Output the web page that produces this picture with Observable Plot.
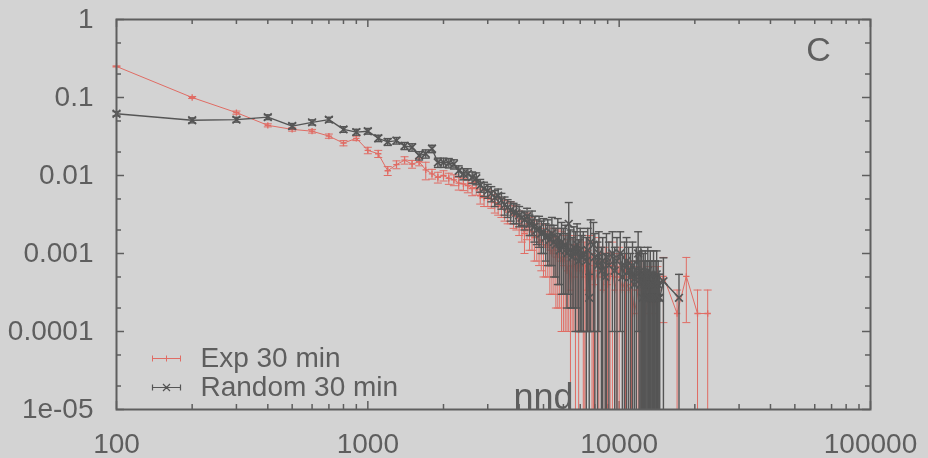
<!DOCTYPE html>
<html>
<head>
<meta charset="utf-8">
<script src="https://cdn.jsdelivr.net/npm/d3@7"></script>
<script src="https://cdn.jsdelivr.net/npm/@observablehq/plot@0.6"></script>
<style>
  html, body { margin: 0; padding: 0; background: #d3d3d3; }
  #chart { width: 928px; height: 458px; overflow: hidden; }
  #chart svg { filter: blur(0.5px); }
</style>
</head>
<body>
<div id="chart"></div>
<script>
// ---- Series: Exp 30 min (red) ----
const expX = [100,200,300,400,500,600,700,800,900,1000,1100,1200,1300,1400,1500,1600,1700,1800,1900,2000,
  2100,2200,2300,2400,2500,2600,2700,2800,2900,3000,3100,3200,3300,3400,3500,3600,3700,3800,3900,4000,
  4100,4200,4300,4400,4500,4600,4700,4800,4900,5000,5100,5200,5300,5400,5500,5600,5700,5800,5900,6000,
  6100,6200,6300,6400,6500,6600,6700,6800,6900,7000,7200,7300,7400,7500,7600,7800,7900,8000,8200,8300,
  8500,8600,8800,9000,9200,9400,9600,9800,10000,10300,10600,10900,11200,11500,11900,12300,12700,13200,13700,14200,
  15000,17000,18500,20500,22500];
const expY = [0.25,0.100,0.064,0.044,0.039,0.037,0.032,0.026,0.030,0.021,0.019,0.0115,0.0138,0.0157,0.0140,0.0150,0.0118,0.0105,0.0095,0.0100,
  0.0092,0.0088,0.0080,0.0078,0.0074,0.0068,0.0070,0.0055,0.0052,0.0053,0.0050,0.0045,0.0042,0.0040,0.0037,0.0034,0.0035,0.0031,0.0030,0.0026,
  0.0022,0.0018,0.0024,0.0020,0.0019,0.0016,0.0017,0.0014,0.0015,0.0013,0.0012,0.0014,0.0011,0.0010,0.0012,0.0009,0.0011,0.0008,0.0010,0.0007,
  0.0009,0.0006,0.0008,0.00034,0.0007,0.0009,0.0005,0.0007,0.0006,0.0008,0.0005,0.0007,0.00034,0.0006,0.0009,0.0005,0.0007,0.0004,0.0006,0.0008,
  0.0005,0.00034,0.0006,0.0004,0.00051,0.0007,0.00034,0.0005,0.0006,0.00034,0.0005,0.00034,0.0004,0.00017,0.00034,0.0004,0.00017,0.00034,0.00017,0.00034,
  0.00051,0.00017,0.00051,0.00017,0.00017];
const expErr = [0.004,0.003,0.003,0.002,0.002,0.002,0.002,0.002,0.002,0.002,0.002,0.0015,0.0016,0.0017,0.0016,0.0017,0.0030,0.0015,0.0015,0.0015,
  0.0015,0.0014,0.0015,0.0014,0.0014,0.0013,0.0014,0.0012,0.0012,0.0013,0.0012,0.0012,0.0011,0.0011,0.0011,0.0010,0.0011,0.0010,0.0010,0.0009,
  0.0008,0.0008,0.0009,0.0009,0.0008,0.0008,0.0009,0.0007,0.0009,0.0008,0.0007,0.0009,0.0008,0.0007,0.0009,0.0007,0.0009,0.0006,0.0009,0.0006,
  0.0008,0.0005,0.0007,0.00034,0.0006,0.0008,0.0005,0.0006,0.0006,0.0007,0.0005,0.0007,0.00034,0.0005,0.0008,0.0005,0.0007,0.0004,0.0006,0.0008,
  0.0005,0.00034,0.0006,0.0004,0.00051,0.0007,0.00034,0.0005,0.0006,0.00034,0.0005,0.00034,0.0004,0.00017,0.00034,0.0004,0.00017,0.00034,0.00017,0.00034,
  0.00038,0.00017,0.00038,0.00017,0.00017];

// ---- Series: Random 30 min (dark grey) ----
const randX = [100,200,300,400,500,600,700,800,900,1000,1100,1200,1300,1400,1500,1600,1700,1800,1900,2000,
  2100,2200,2300,2400,2500,2600,2700,2800,2900,3000,3100,3200,3300,3400,3500,3600,3700,3800,3900,4000,
  4100,4200,4300,4400,4500,4600,4700,4800,4900,5000,5100,5200,5300,5400,5500,5600,5700,5800,5900,6000,
  6100,6200,6300,6400,6500,6600,6700,6800,6900,7000,7100,7200,7400,7500,7600,7700,7900,8000,8200,8300,
  8500,8600,8800,8900,9100,9400,9600,9800,10100,10300,10500,10700,10900,11100,11300,11500,11700,11900,12000,12100,
  12200,12300,12400,12500,12600,12700,12800,12900,13000,13100,13200,13300,13400,13500,13600,13700,13800,13900,14000,14100,
  14200,14300,14400,14500,15000,17300];
const randY = [0.062,0.051,0.052,0.056,0.043,0.048,0.052,0.039,0.036,0.037,0.030,0.027,0.028,0.024,0.023,0.018,0.019,0.022,0.0147,0.0147,
  0.0145,0.0140,0.0115,0.0105,0.0105,0.0095,0.0092,0.0075,0.0068,0.0064,0.0059,0.0052,0.0055,0.0048,0.0042,0.0039,0.0036,0.0034,0.0033,0.0031,
  0.0029,0.0027,0.0030,0.0024,0.0026,0.0022,0.0020,0.0021,0.0018,0.0019,0.0016,0.0017,0.0015,0.0018,0.0014,0.0013,0.0016,0.0011,0.0014,0.0012,
  0.0013,0.0010,0.0024,0.0011,0.0009,0.0012,0.0010,0.0013,0.0008,0.0011,0.0009,0.0010,0.0008,0.0011,0.00027,0.0014,0.0013,0.0009,0.0007,0.0010,
  0.0006,0.0008,0.0005,0.0009,0.0007,0.0010,0.0006,0.0008,0.0010,0.0005,0.0007,0.0008,0.0006,0.0005,0.0007,0.0004,0.0006,0.0010,0.0005,0.0004,
  0.0006,0.00054,0.00027,0.0005,0.0004,0.00054,0.00027,0.0004,0.0006,0.00027,0.0004,0.00054,0.00027,0.0004,0.00027,0.00054,0.00027,0.0004,0.00027,0.00054,
  0.00027,0.0004,0.00027,0.00027,0.00044,0.00027];
const randErr = [0.0040,0.0037,0.0037,0.0039,0.0034,0.0036,0.0037,0.0032,0.0031,0.0031,0.0028,0.0027,0.0027,0.0025,0.0025,0.0022,0.0023,0.0024,0.0020,0.0020,
  0.0020,0.0019,0.0018,0.0017,0.0017,0.0016,0.0016,0.0014,0.0014,0.0013,0.0013,0.0012,0.0012,0.0011,0.0011,0.0010,0.0010,0.0010,0.0009,0.0009,
  0.0006,0.0007,0.0008,0.0007,0.0009,0.0008,0.0007,0.0009,0.0008,0.0009,0.0008,0.0010,0.0008,0.0011,0.0009,0.0008,0.0012,0.0007,0.0011,0.0009,
  0.0010,0.0008,0.0021,0.0009,0.0007,0.0010,0.0009,0.0011,0.0007,0.0010,0.0008,0.0009,0.0008,0.0010,0.00027,0.0013,0.0012,0.0009,0.0007,0.0009,
  0.0006,0.0008,0.0005,0.0009,0.0007,0.0009,0.0006,0.0008,0.0009,0.0005,0.0007,0.0008,0.0006,0.0005,0.0007,0.0004,0.0006,0.0009,0.0005,0.0004,
  0.0006,0.00054,0.00027,0.0005,0.0004,0.00054,0.00027,0.0004,0.0006,0.00027,0.0004,0.00054,0.00027,0.0004,0.00027,0.00054,0.00027,0.0004,0.00027,0.00054,
  0.00027,0.0004,0.00027,0.00027,0.00044,0.00027];

// ---- Axes ----
const xTicks = [100, 1000, 10000, 100000];
const xTickLabels = ["100", "1000", "10000", "100000"];
const xMinor = [200,300,400,500,600,700,800,900,2000,3000,4000,5000,6000,7000,8000,9000,20000,30000,40000,50000,60000,70000,80000,90000];
const yTicks = [1e-5, 1e-4, 1e-3, 1e-2, 1e-1, 1];
const yTickLabels = ["1e-05", "0.0001", "0.001", "0.01", "0.1", "1"];
const yMinor = [2e-5, 5e-5, 2e-4, 5e-4, 2e-3, 5e-3, 2e-2, 5e-2, 0.2, 0.5];

const seriesNames = ["Exp 30 min", "Random 30 min"];
const xLabel = "nnd";
const panelLabel = "C";

// ---- Styling ----
const RED = "#e06c64";
const DARK = "#555555";
const TEXT = "#5e5e5e";
const AXIS = "#5e5e5e";
const W = 928, H = 458;
const mL = 116, mR = 58, mT = 19, mB = 49;
const plotW = W - mL - mR, plotH = H - mT - mB;
const YMIN = yTicks[0];

function rows(X, Y, E) {
  return X.map((x, i) => {
    const y = Y[i], e = E[i];
    const lo = y - e;
    return {x, y, hi: y + e, lo: lo > YMIN ? lo : YMIN, loCap: lo > YMIN};
  });
}
const expRows = rows(expX, expY, expErr);
const randRows = rows(randX, randY, randErr);

const capSym = {draw(ctx, size) { const w = Math.sqrt(size / Math.PI); ctx.moveTo(-w, 0); ctx.lineTo(w, 0); }};
function legendSym(kind) {
  return {draw(ctx) {
    ctx.moveTo(-14, 0); ctx.lineTo(14, 0);
    ctx.moveTo(-14, -3); ctx.lineTo(-14, 3);
    ctx.moveTo(14, -3); ctx.lineTo(14, 3);
    if (kind === "plus") { ctx.moveTo(0, -3); ctx.lineTo(0, 3); }
    else { ctx.moveTo(-3.5, -3.5); ctx.lineTo(3.5, 3.5); ctx.moveTo(-3.5, 3.5); ctx.lineTo(3.5, -3.5); }
  }};
}
const fmtX = new Map(xTicks.map((v, i) => [v, xTickLabels[i]]));
const fmtY = new Map(yTicks.map((v, i) => [v, yTickLabels[i]]));

function seriesMarks(R, color, sym, r, sw) {
  return [
    Plot.ruleX(R, {x: "x", y1: "lo", y2: "hi", stroke: color, strokeWidth: sw}),
    Plot.dot(R, {x: "x", y: "hi", symbol: capSym, r: 4, stroke: color, strokeWidth: sw, fill: "none"}),
    Plot.dot(R.filter(d => d.loCap), {x: "x", y: "lo", symbol: capSym, r: 4, stroke: color, strokeWidth: sw, fill: "none"}),
    Plot.line(R, {x: "x", y: "y", stroke: color, strokeWidth: sw}),
    Plot.dot(R, {x: "x", y: "y", symbol: sym, r, stroke: color, strokeWidth: sw + 0.3, fill: "none"})
  ];
}

const chart = Plot.plot({
  width: W, height: H,
  marginLeft: mL, marginRight: mR, marginTop: mT, marginBottom: mB,
  style: {background: "#d3d3d3", color: TEXT, fontFamily: "'Liberation Sans', Arial, Helvetica, sans-serif", overflow: "visible"},
  x: {type: "log", domain: [100, 100000]},
  y: {type: "log", domain: [1e-5, 1]},
  marks: [
    Plot.axisX({ticks: xTicks, tickSize: 0, tickPadding: 24, tickFormat: d => fmtX.get(d), fontSize: 28, label: null, fill: TEXT}),
    Plot.axisY({ticks: yTicks, tickSize: 0, tickPadding: 23, tickFormat: d => fmtY.get(d), fontSize: 28, label: null, fill: TEXT}),
    // inward ticks on all four sides
    Plot.tickX(xTicks, {x: d => d, insetTop: plotH - 8, stroke: AXIS, strokeWidth: 1.5}),
    Plot.tickX(xTicks, {x: d => d, insetBottom: plotH - 8, stroke: AXIS, strokeWidth: 1.5}),
    Plot.tickX(xMinor, {x: d => d, insetTop: plotH - 5, stroke: AXIS, strokeWidth: 1.5}),
    Plot.tickX(xMinor, {x: d => d, insetBottom: plotH - 5, stroke: AXIS, strokeWidth: 1.5}),
    Plot.tickY(yTicks, {y: d => d, insetRight: plotW - 8, stroke: AXIS, strokeWidth: 1.5}),
    Plot.tickY(yTicks, {y: d => d, insetLeft: plotW - 8, stroke: AXIS, strokeWidth: 1.5}),
    Plot.tickY(yMinor, {y: d => d, insetRight: plotW - 5, stroke: AXIS, strokeWidth: 1.5}),
    Plot.tickY(yMinor, {y: d => d, insetLeft: plotW - 5, stroke: AXIS, strokeWidth: 1.5}),
    ...seriesMarks(expRows, RED, "plus", 2.2, 1),
    ...seriesMarks(randRows, DARK, "times", 3.6, 1.4),
    Plot.frame({stroke: AXIS, strokeWidth: 2}),
    // legend
    Plot.dot([seriesNames[0]], {frameAnchor: "bottom-left", dx: 50, dy: -51, symbol: legendSym("plus"), r: 4, stroke: RED, strokeWidth: 1, fill: "none"}),
    Plot.dot([seriesNames[1]], {frameAnchor: "bottom-left", dx: 50, dy: -22, symbol: legendSym("times"), r: 4, stroke: DARK, strokeWidth: 1.2, fill: "none"}),
    Plot.text([seriesNames[0]], {frameAnchor: "bottom-left", dx: 84, dy: -51, text: d => d, textAnchor: "start", lineAnchor: "middle", fontSize: 28, fill: TEXT}),
    Plot.text([seriesNames[1]], {frameAnchor: "bottom-left", dx: 84, dy: -22, text: d => d, textAnchor: "start", lineAnchor: "middle", fontSize: 28, fill: TEXT}),
    // annotations
    Plot.text([panelLabel], {frameAnchor: "top-right", dx: -52, dy: 31, text: d => d, textAnchor: "middle", lineAnchor: "middle", fontSize: 34, fill: TEXT}),
    Plot.text([xLabel], {frameAnchor: "bottom", dx: 50, dy: -1, text: d => d, textAnchor: "middle", lineAnchor: "bottom", fontSize: 36, fill: TEXT})
  ]
});
document.getElementById("chart").appendChild(chart);
</script>
</body>
</html>
